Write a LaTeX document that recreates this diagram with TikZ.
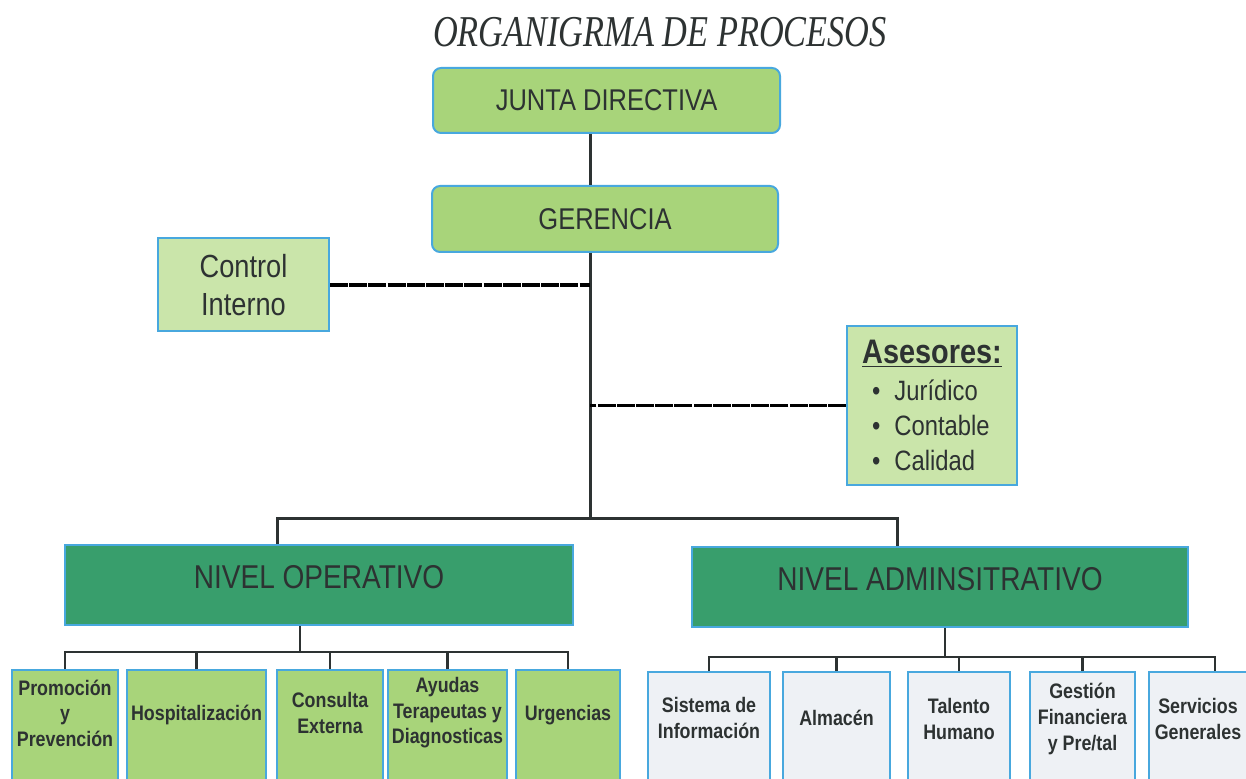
\documentclass[tikz,border=0pt]{standalone}
\usepackage{fontspec}
\setmainfont{Liberation Sans}
\newfontfamily\estrecha[FakeStretch=0.85]{Liberation Sans}
\newfontfamily\titular[FakeStretch=0.78]{Liberation Serif}

\definecolor{verdeclaro}{RGB}{168,212,122}
\definecolor{verdepalido}{RGB}{202,229,170}
\definecolor{verdeoscuro}{RGB}{56,158,108}
\definecolor{grisazul}{RGB}{238,241,245}
\definecolor{bordeazul}{RGB}{72,168,222}
\definecolor{tinta}{RGB}{45,50,50}

\begin{document}
\begin{tikzpicture}[x=0.5pt, y=-0.5pt,
    every node/.style={text=tinta},
    titulo/.style={font=\titular\itshape\fontsize{22}{26}\selectfont},
    jefatura/.style={draw=bordeazul, line width=1pt, fill=verdeclaro, rounded corners=4pt,
        font=\estrecha\fontsize{15}{18}\selectfont},
    apoyo/.style={draw=bordeazul, line width=1pt, fill=verdepalido, align=center,
        font=\estrecha\fontsize{16}{19}\selectfont},
    nivel/.style={draw=bordeazul, line width=1pt, fill=verdeoscuro, minimum height=40pt,
        text depth=8pt, font=\estrecha\fontsize{16.5}{20}\selectfont},
    opcaja/.style={draw=bordeazul, line width=1pt, fill=verdeclaro, minimum height=60pt},
    adcaja/.style={draw=bordeazul, line width=1pt, fill=grisazul, minimum height=60pt},
    rotulo/.style={align=center, inner sep=1pt, font=\estrecha\bfseries\fontsize{10.5}{12.8}\selectfont},
    linea/.style={draw=tinta, line width=1.5pt},
    enlace/.style={draw=black, line width=1.6pt, dash pattern=on 9pt off 0.6pt},
    rama/.style={draw=tinta, line width=1.1pt}]
    \useasboundingbox (0,0) rectangle (1246,779);

    \node[titulo] (titulo) at (660,32) {ORGANIGRMA DE PROCESOS};

    \node[jefatura, minimum width=173.5pt, minimum height=32.5pt] (junta) at (606.5,100.5) {JUNTA DIRECTIVA};
    \node[jefatura, minimum width=173pt, minimum height=33pt] (gerencia) at (605,219) {GERENCIA};
    \node[apoyo, minimum width=85.5pt, minimum height=46.5pt] (control) at (243.5,285) {Control\\Interno};
    \node[apoyo, minimum width=85pt, minimum height=79.5pt, align=left,
        font=\estrecha\fontsize{14}{17.5}\selectfont] (asesores) at (932,405.5)
        {{\bfseries\fontsize{17}{20}\selectfont\underline{Asesores:}}\\[1pt]
         \hspace*{5pt}\textbullet\hspace{7pt}Jurídico\\
         \hspace*{5pt}\textbullet\hspace{7pt}Contable\\
         \hspace*{5pt}\textbullet\hspace{7pt}Calidad};

    \node[nivel, minimum width=254pt] (operativo) at (319,585) {NIVEL OPERATIVO};
    \node[nivel, minimum width=248pt] (administrativo) at (940,587) {NIVEL ADMINSITRATIVO};

    % nivel operativo
    \node[opcaja, minimum width=53pt] (promocion) at (65,730) {};
    \node[opcaja, minimum width=69.5pt] (hospitalizacion) at (196.5,730) {};
    \node[opcaja, minimum width=53pt] (consulta) at (330,730) {};
    \node[opcaja, minimum width=59.5pt] (ayudas) at (447.5,730) {};
    \node[opcaja, minimum width=52pt] (urgencias) at (568,730) {};
    \node[rotulo] (promocion-t) at (65,713) {Promoción\\y\\Prevención};
    \node[rotulo] (hospitalizacion-t) at (196.5,715) {Hospitalización};
    \node[rotulo] (consulta-t) at (330,713) {Consulta\\Externa};
    \node[rotulo] (ayudas-t) at (447.5,713) {Ayudas\\Terapeutas y\\Diagnosticas};
    \node[rotulo] (urgencias-t) at (568,715) {Urgencias};

    % nivel administrativo
    \node[adcaja, minimum width=61pt] (sistema) at (709,732) {};
    \node[adcaja, minimum width=53.5pt] (almacen) at (836.5,732) {};
    \node[adcaja, minimum width=51pt] (talento) at (959,732) {};
    \node[adcaja, minimum width=52.5pt] (gestion) at (1082.5,732) {};
    \node[adcaja, minimum width=53pt] (servicios) at (1202,732) {};
    \node[rotulo] (sistema-t) at (709,718) {Sistema de\\Información};
    \node[rotulo] (almacen-t) at (836.5,718) {Almacén};
    \node[rotulo] (talento-t) at (959,719) {Talento\\Humano};
    \node[rotulo] (gestion-t) at (1082.5,719) {Gestión\\Financiera\\y Pre/tal};
    \node[rotulo] (servicios-t) at (1198,719) {Servicios\\Generales};

    \coordinate (tronco) at (590,519);
    \coordinate (opcruce) at (277,519);
    \coordinate (adcruce) at (897,519);
    \coordinate (opbus) at (300,652);
    \coordinate (adbus) at (945,657);
    \coordinate (servcruce) at (1215,657);

    \draw[linea] (junta.south -| tronco) -- (gerencia.north -| tronco);
    \draw[linea] (gerencia.south -| tronco) -- (tronco);
    \draw[enlace] (control.east) -- (control.east -| tronco);
    \draw[enlace] (asesores.west) -- (asesores.west -| tronco);
    \draw[linea] (operativo.north -| opcruce) -- (opcruce) -- (adcruce) -- (administrativo.north -| adcruce);

    \draw[rama] (operativo.south -| opbus) -- (opbus);
    \draw[rama] (promocion.north) |- (opbus) -| (urgencias.north);
    \foreach \n in {hospitalizacion,consulta,ayudas}
        \draw[rama] (\n.north) -- (\n.north |- opbus);

    \draw[rama] (administrativo.south -| adbus) -- (adbus);
    \draw[rama] (sistema.north) |- (servcruce) -- (servcruce |- servicios.north);
    \foreach \n in {almacen,talento,gestion}
        \draw[rama] (\n.north) -- (\n.north |- adbus);
\end{tikzpicture}
\end{document}
